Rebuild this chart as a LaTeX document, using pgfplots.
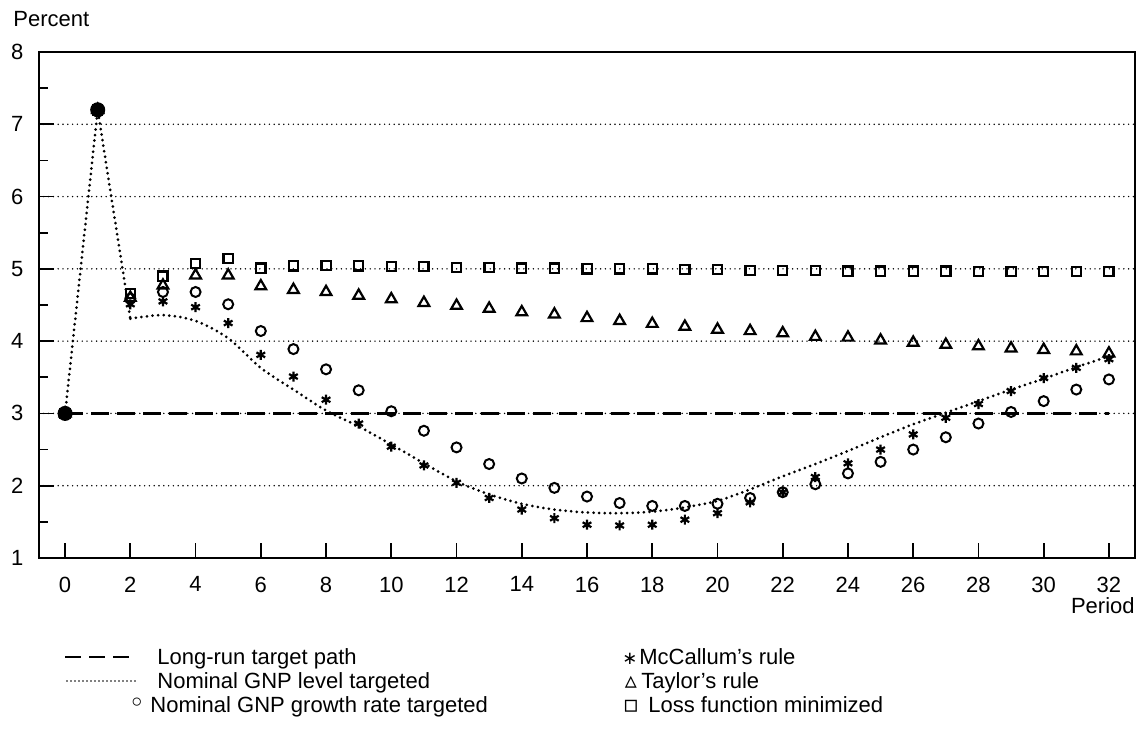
\documentclass[border=0pt]{standalone}
\usepackage{fontspec}
\setmainfont{Liberation Sans}
\newfontfamily\symfont{DejaVu Sans}
\usepackage{pgfplots}
\pgfplotsset{compat=1.18}

\begin{document}
\fontsize{11}{13}\selectfont
\begin{tikzpicture}[font=\fontsize{11}{13}\selectfont]
\begin{axis}[
    scale only axis,
    width=548pt, height=253pt,
    xmin=-0.8, xmax=32.8, ymin=1, ymax=8,
    xtick={0,2,...,32}, ytick={1,...,8},
    minor ytick={1.5,2.5,...,7.5},
    tick align=inside, xtick pos=bottom, ytick pos=left,
    axis line style={line width=1.2pt},
    major tick length=7.5pt, minor tick length=4.5pt,
    tick style={black, line width=0.9pt},
    ymajorgrids,
    major grid style={black, line width=0.8pt, dash pattern=on 0pt off 2.4pt, line cap=round},
    /pgf/number format/assume math mode=true,
    ticklabel style={font=\fontsize{11}{13}\selectfont},
    yticklabel style={xshift=-4pt},
    xticklabel style={yshift=-5.5pt},
    clip=false,
]
% long-run target path
\addplot[black, line width=1.2pt, dash pattern=on 9pt off 4pt] coordinates {(0,3) (32,3)};

% nominal GNP level targeted
\addplot[black, line width=1.5pt, dash pattern=on 0pt off 2.8pt, line cap=round,
    mark=*, mark size=3pt, mark indices={1,2}, mark options={solid}] coordinates {
    (0,3.0) (1,7.2) (2,4.31)
};
\addplot[black, line width=1.5pt, dash pattern=on 0pt off 2.8pt, line cap=round, smooth, tension=0.5] coordinates {
    (2,4.31) (3,4.36) (4,4.28) (5,4.04) (6,3.63) (7,3.33) (8,3.04) (9,2.82)
    (10,2.57) (11,2.31) (12,2.06) (13,1.88) (14,1.75) (15,1.67) (16,1.63)
    (17,1.62) (18,1.64) (19,1.70) (20,1.79) (21,1.95) (22,2.13) (23,2.30)
    (24,2.48) (25,2.67) (26,2.85) (27,3.01) (28,3.17) (29,3.33) (30,3.48)
    (31,3.64) (32,3.79)
};

% nominal GNP growth rate targeted
\addplot[only marks, mark=o, mark size=2.5pt, line width=1pt] coordinates {
    (0,3.0) (1,7.2) (2,4.59) (3,4.68) (4,4.68) (5,4.51) (6,4.14) (7,3.89)
    (8,3.61) (9,3.32) (10,3.03) (11,2.76) (12,2.53) (13,2.30) (14,2.10)
    (15,1.97) (16,1.85) (17,1.76) (18,1.72) (19,1.72) (20,1.75) (21,1.83)
    (22,1.91) (23,2.02) (24,2.17) (25,2.33) (26,2.50) (27,2.67) (28,2.86)
    (29,3.02) (30,3.17) (31,3.33) (32,3.47)
};

% McCallum's rule
\addplot[only marks, mark=asterisk, mark size=2.5pt, line width=1.1pt] coordinates {
    (0,3.0) (1,7.2) (2,4.51) (3,4.55) (4,4.47) (5,4.25) (6,3.81) (7,3.51)
    (8,3.19) (9,2.86) (10,2.54) (11,2.28) (12,2.04) (13,1.83) (14,1.67)
    (15,1.55) (16,1.46) (17,1.45) (18,1.46) (19,1.53) (20,1.62) (21,1.77)
    (22,1.91) (23,2.12) (24,2.31) (25,2.50) (26,2.71) (27,2.94) (28,3.13)
    (29,3.31) (30,3.49) (31,3.63) (32,3.75)
};

% Taylor's rule
\addplot[only marks, mark=triangle, mark size=3.1pt, line width=1.1pt] coordinates {
    (0,3.0) (1,7.2) (2,4.60) (3,4.77) (4,4.91) (5,4.91) (6,4.76) (7,4.71)
    (8,4.68) (9,4.63) (10,4.58) (11,4.53) (12,4.49) (13,4.45) (14,4.40)
    (15,4.37) (16,4.32) (17,4.28) (18,4.24) (19,4.20) (20,4.16) (21,4.14)
    (22,4.11) (23,4.06) (24,4.05) (25,4.01) (26,3.98) (27,3.95) (28,3.93)
    (29,3.90) (30,3.88) (31,3.86) (32,3.83)
};

% loss function minimized
\addplot[only marks, mark=square, mark size=2.3pt, line width=1.1pt] coordinates {
    (0,3.0) (1,7.2) (2,4.66) (3,4.90) (4,5.07) (5,5.14) (6,5.01) (7,5.04)
    (8,5.05) (9,5.04) (10,5.03) (11,5.03) (12,5.02) (13,5.02) (14,5.01)
    (15,5.01) (16,5.00) (17,5.00) (18,5.00) (19,4.99) (20,4.99) (21,4.98)
    (22,4.98) (23,4.98) (24,4.97) (25,4.97) (26,4.97) (27,4.97) (28,4.96)
    (29,4.96) (30,4.96) (31,4.96) (32,4.96)
};

% axis texts
\node[anchor=base west, inner sep=0] at ([xshift=-13pt,yshift=12.5pt]rel axis cs:0,1) {Percent};
\node[anchor=base east, inner sep=0] at ([yshift=-28pt]rel axis cs:1,0) {Period};

% legend
\draw[black, line width=1.2pt, dash pattern=on 8pt off 4pt]
    ([xshift=13pt,yshift=-49.5pt]rel axis cs:0,0) -- ++(32pt,0pt);
\draw[black, line width=0.8pt, dash pattern=on 0pt off 2pt, line cap=round]
    ([xshift=14pt,yshift=-61.5pt]rel axis cs:0,0) -- ++(35pt,0pt);
\node[anchor=base, inner sep=0] at ([xshift=49pt,yshift=-77.5pt]rel axis cs:0,0) {\fontsize{14}{14}\symfont ◦};
\node[anchor=base west, inner sep=0] at ([xshift=59pt,yshift=-53.5pt]rel axis cs:0,0) {Long-run target path};
\node[anchor=base west, inner sep=0] at ([xshift=59pt,yshift=-65.5pt]rel axis cs:0,0) {Nominal GNP level targeted};
\node[anchor=base west, inner sep=0] at ([xshift=55.5pt,yshift=-77.5pt]rel axis cs:0,0) {Nominal GNP growth rate targeted};

\node[anchor=base, inner sep=0] at ([xshift=295.5pt,yshift=-53.5pt]rel axis cs:0,0) {\fontsize{9}{9}\symfont ∗};
\node[anchor=base, inner sep=0] at ([xshift=296pt,yshift=-65.5pt]rel axis cs:0,0) {\fontsize{12}{12}\symfont ▵};
\node[anchor=base, inner sep=0] at ([xshift=296pt,yshift=-77.5pt]rel axis cs:0,0) {\fontsize{12}{12}\symfont ▫};
\node[anchor=base west, inner sep=0] at ([xshift=300pt,yshift=-53.5pt]rel axis cs:0,0) {McCallum's rule};
\node[anchor=base west, inner sep=0] at ([xshift=301pt,yshift=-65.5pt]rel axis cs:0,0) {Taylor's rule};
\node[anchor=base west, inner sep=0] at ([xshift=304.5pt,yshift=-77.5pt]rel axis cs:0,0) {Loss function minimized};

% page frame
\path ([xshift=-19.5pt,yshift=-85.5pt]rel axis cs:0,0) rectangle ([xshift=4pt,yshift=26pt]rel axis cs:1,1);
\end{axis}
\end{tikzpicture}
\end{document}
